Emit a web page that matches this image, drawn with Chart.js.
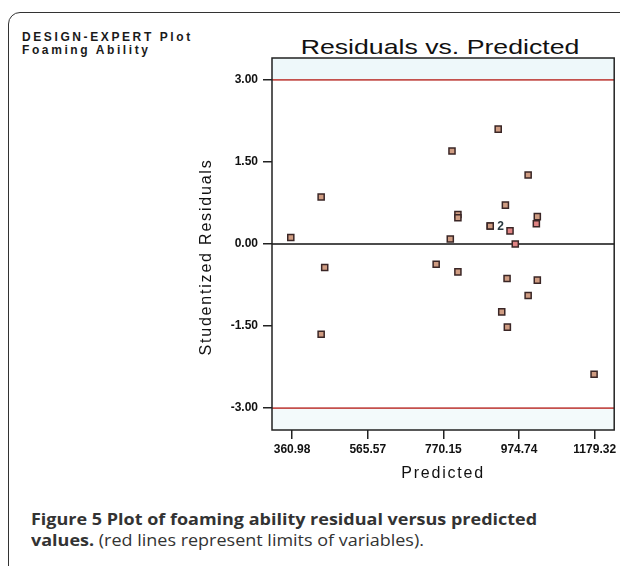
<!DOCTYPE html>
<html><head><meta charset="utf-8">
<script src="https://cdn.jsdelivr.net/npm/chart.js@4"></script>
<style>
html,body{margin:0;padding:0;background:#fff;overflow:hidden;width:620px;height:566px}
#frame{position:absolute;left:8px;top:12px;width:700px;height:700px;border:1.5px solid #333;border-radius:12px;box-sizing:border-box}
#hdr{position:absolute;left:22px;top:31px;font:bold 12px "Liberation Sans",Arial,sans-serif;letter-spacing:2.6px;line-height:13px;color:#1a1a1a}
#title{position:absolute;left:240px;top:34px;width:400px;text-align:center;font:21px "Liberation Sans",Arial,sans-serif;line-height:26px;color:#111;transform:scaleX(1.27);transform-origin:center;white-space:nowrap}
#wrap{position:absolute;left:0;top:0;width:620px;height:500px}
#cap{position:absolute;left:31px;top:508px;font:16.5px "Open Sans",sans-serif;line-height:21px;color:#333;transform:scaleX(1.09);transform-origin:0 0;white-space:nowrap}
#cap b{font-weight:bold}
</style></head>
<body>
<div id="frame"></div>
<div id="hdr">DESIGN-EXPERT Plot<br>Foaming Ability</div>
<div id="title">Residuals vs. Predicted</div>
<div id="wrap"><canvas id="c"></canvas></div>
<div id="cap"><b>Figure 5 Plot of foaming ability residual versus predicted</b><br><b>values.</b> (red lines represent limits of variables).</div>
<script>
// ---- data ----
const xTickValues = [360.98, 565.57, 770.15, 974.74, 1179.32];
const yTickValues = [-3.00, -1.50, 0.00, 1.50, 3.00];
const xRange = [306.7, 1232.0];
const yRange = [-3.40, 3.40];
const limitValues = [3.00, -3.00];
const predictedA = [918.3, 793.4, 999.3, 439.6, 937.8, 809.4, 809.4, 1024.1, 896.8, 896.8, 357.5, 788.8, 449.2, 750.6, 809.4, 942.3, 1024.1, 999.3, 927.9, 943.1, 439.6, 1177.6];
const residualsA = [2.10, 1.70, 1.26, 0.86, 0.71, 0.54, 0.48, 0.50, 0.33, 0.33, 0.12, 0.09, -0.43, -0.37, -0.51, -0.63, -0.66, -0.94, -1.24, -1.52, -1.65, -2.38];
const predictedB = [1021.5, 950.3, 964.5];
const residualsB = [0.37, 0.24, 0.00];
const countLabels = [{x: 896.8, y: 0.33, text: '2'}];
const xTitle = 'Predicted';
const yTitle = 'Studentized Residuals';

const pts = (xs, ys) => xs.map((x, i) => ({x, y: ys[i]}));
const hline = v => [{x: xRange[0], y: v}, {x: xRange[1], y: v}];

// wide letter spacing for the x axis title (tick labels are drawn in a later layer)
const spacing = {
  id: 'spacing',
  beforeDraw(chart) { chart.ctx.letterSpacing = '1.8px'; },
  beforeDatasetsDraw(chart) { chart.ctx.letterSpacing = '0px'; }
};

const plotDecor = {
  id: 'plotDecor',
  beforeDatasetsDraw(chart) {
    const {ctx, chartArea: a, scales: {y}} = chart;
    ctx.save();
    ctx.fillStyle = '#eef8fa';
    const yTop = y.getPixelForValue(limitValues[0]);
    const yBot = y.getPixelForValue(limitValues[1]);
    ctx.fillRect(a.left, a.top, a.right - a.left, yTop - a.top);
    ctx.fillStyle = '#f3fafb';
    ctx.fillRect(a.left, yBot, a.right - a.left, a.bottom - yBot);
    ctx.restore();
  },
  afterDatasetsDraw(chart) {
    const {ctx, chartArea: a, scales: {x, y}} = chart;
    ctx.save();
    ctx.strokeStyle = '#222';
    ctx.lineWidth = 1.5;
    ctx.strokeRect(a.left, a.top, a.right - a.left, a.bottom - a.top);
    ctx.fillStyle = '#2a3a40';
    ctx.font = 'bold 12px "Liberation Sans", Arial, sans-serif';
    ctx.textBaseline = 'middle';
    countLabels.forEach(l => {
      ctx.fillText(l.text, x.getPixelForValue(l.x) + 7, y.getPixelForValue(l.y) + 1);
    });
    // y axis title, drawn a little below the axis centre as in the original
    ctx.letterSpacing = '1.8px';
    ctx.fillStyle = '#111';
    ctx.font = '16px "Liberation Sans", Arial, sans-serif';
    ctx.textAlign = 'center';
    ctx.translate(y.left + 47, (a.top + a.bottom) / 2 + 13);
    ctx.rotate(-Math.PI / 2);
    ctx.fillText(yTitle, 0, 0);
    ctx.restore();
    ctx.letterSpacing = '0px';
  }
};

const tickFont = {family: '"Liberation Sans", Arial, sans-serif', size: 12, weight: 'bold'};
const titleFont = {family: '"Liberation Sans", Arial, sans-serif', size: 16};

new Chart(document.getElementById('c'), {
  type: 'scatter',
  data: {
    datasets: [
      {data: pts(predictedA, residualsA), backgroundColor: '#cf9c82', borderColor: '#3a2626', borderWidth: 1.5, pointStyle: 'rect', pointRadius: 4.3, order: 0},
      {data: pts(predictedB, residualsB), backgroundColor: '#e08484', borderColor: '#3a2626', borderWidth: 1.5, pointStyle: 'rect', pointRadius: 4.3, order: 0},
      {type: 'line', data: hline(0), borderColor: '#111', borderWidth: 1.5, pointRadius: 0, order: 1},
      {type: 'line', data: hline(limitValues[0]), borderColor: '#c4504c', borderWidth: 1.6, pointRadius: 0, order: 1},
      {type: 'line', data: hline(limitValues[1]), borderColor: '#c4504c', borderWidth: 1.6, pointRadius: 0, order: 1}
    ]
  },
  options: {
    responsive: true,
    maintainAspectRatio: false,
    animation: false,
    layout: {padding: {left: 160, right: 2, top: 58, bottom: 15}},
    plugins: {
      legend: {display: false},
      tooltip: {enabled: false},
      title: {display: false}
    },
    scales: {
      x: {
        type: 'linear', min: xRange[0], max: xRange[1],
        afterBuildTicks: s => { s.ticks = xTickValues.map(v => ({value: v})); },
        afterFit: s => { s.height = 55; },
        ticks: {callback: v => Number(v).toFixed(2), font: tickFont, color: '#111', padding: 3, maxRotation: 0, autoSkip: false, z: 1},
        grid: {drawOnChartArea: false, drawTicks: true, tickLength: 9, color: '#222', lineWidth: 1.5},
        border: {display: false},
        title: {display: true, text: xTitle, color: '#111', font: titleFont, padding: {top: 0, bottom: 2}}
      },
      y: {
        type: 'linear', min: yRange[0], max: yRange[1],
        afterBuildTicks: s => { s.ticks = yTickValues.map(v => ({value: v})); },
        afterFit: s => { s.width = 112; },
        ticks: {callback: v => Number(v).toFixed(2), font: tickFont, color: '#111', padding: 5, autoSkip: false, z: 1},
        grid: {drawOnChartArea: false, drawTicks: true, tickLength: 9, color: '#222', lineWidth: 1.5},
        border: {display: false},
        title: {display: false, text: yTitle}
      }
    }
  },
  plugins: [spacing, plotDecor]
});
</script>
</body></html>
